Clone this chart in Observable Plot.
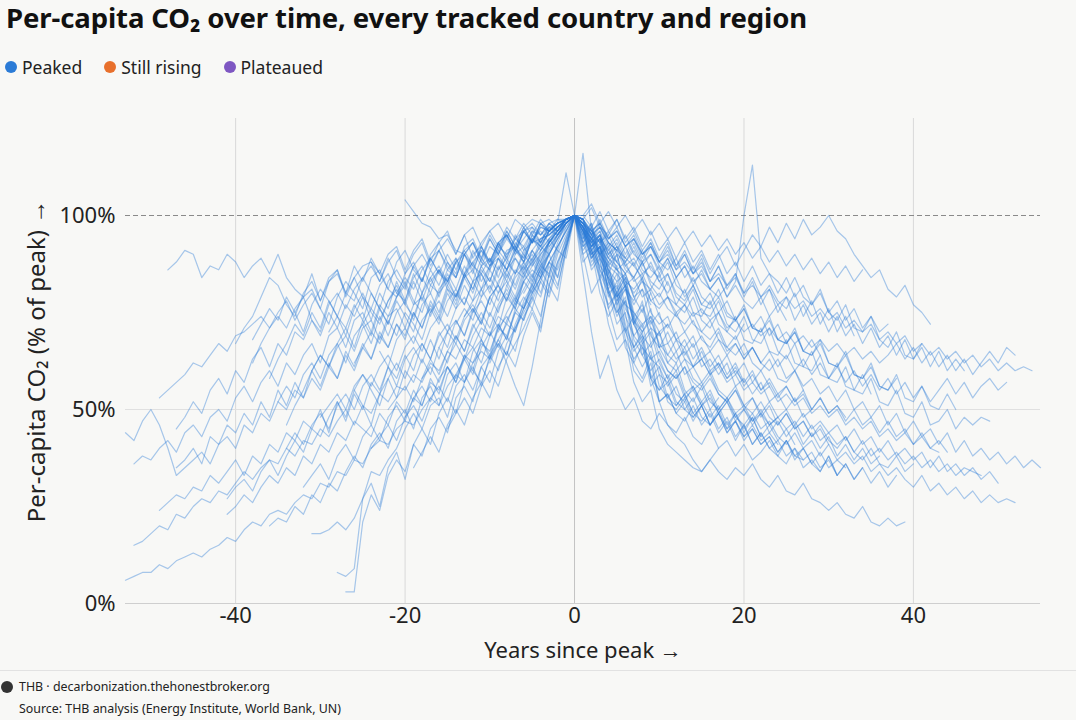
<!DOCTYPE html>
<html><head><meta charset="utf-8">
<script src="https://cdn.jsdelivr.net/npm/d3@7"></script>
<script src="https://cdn.jsdelivr.net/npm/@observablehq/plot@0.6"></script>
<style>
html,body{margin:0;padding:0;background:#f8f8f6;width:1076px;height:720px;overflow:hidden;font-family:"Segoe UI","Noto Sans","Open Sans",sans-serif;color:#111;}
#title{position:absolute;left:6px;top:0px;font-size:27.5px;font-weight:700;letter-spacing:-0.1px;line-height:36px;}
#legend{position:absolute;left:5px;top:55px;font-size:17.5px;display:flex;gap:22px;line-height:24px;color:#222}
#legend span.i{display:inline-flex;align-items:center;gap:5px}
#legend b{display:inline-block;width:12px;height:12px;border-radius:50%}
#chart{position:absolute;left:0;top:95px}
#chart g[aria-label="y-axis label"] text{font-size:24px}
#foot{position:absolute;left:0;top:670px;width:1076px;border-top:1px solid #e2e2e2;font-size:12.4px;color:#222}
#foot .l1{position:absolute;left:1px;top:7px;display:flex;align-items:center;gap:6px;white-space:nowrap}
#foot .l1 i{display:inline-block;width:12px;height:12px;border-radius:50%;background:#333}
#foot .l2{position:absolute;left:19px;top:29px;white-space:nowrap}
</style></head>
<body>
<div id="title">Per-capita CO₂ over time, every tracked country and region</div>
<div id="legend"></div>
<div id="chart"></div>
<div id="foot"><div class="l1"><i></i>THB · decarbonization.thehonestbroker.org</div><div class="l2">Source: THB analysis (Energy Institute, World Bank, UN)</div></div>
<script>
const legendLabels = ["Peaked", "Still rising", "Plateaued"];
const legendColors = ["#2b7bd6", "#e8702c", "#7e57c2"];
const xTicks = [-40, -20, 0, 20, 40];
const yTicks = [0, 50, 100];
const peakValue = 100;

// values before the peak year (last entry = year -1), % of peak
const rise = [
 [6,7,8,8,10,9,11,12,13,12,14,15,17,16,19,21,20,23,24,23,26,28,27,31,30,34,33,37,36,40,42,41,45,47,46,50,53,51,56,59,57,62,65,63,68,72,70,76,80,84,88,86,92],
 [44,42,47,50,46,40,33,35,37,39,36,41,43,40,46,44,49,47,52,50,55,53,58,55,61,58,64,60,66,63,69,66,72,69,75,71,78,74,81,77,84,80,86,83,89,86,91,88,94,92,96,95,98],
 [86,88,91,90,84,87,86,90,88,84,87,89,85,90,84,81,79,85,78,83,86,79,84,87,88,83,88,91,85,90,93,87,91,94,90,95,89,93,96,92,97,94,98,95,99,96,99,98],
 [15,16,18,20,19,23,22,25,27,26,29,28,31,34,32,35,37,36,40,38,42,41,45,43,47,50,46,51,49,54,52,56,55,59,57,62,60,65,63,68,66,71,69,74,72,78,76,82,86,90,84,93],
 [36,38,37,40,42,39,44,46,43,48,50,47,53,56,52,57,60,56,62,59,64,67,62,69,71,66,73,75,70,77,74,79,82,77,84,80,86,83,89,85,91,87,92,90,94,91,96,93,97,96,98,99],
 [53,55,57,59,62,61,64,67,65,69,70,72,74,71,75,78,73,77,80,76,72,79,83,80,76,84,86,81,79,85,88,83,89,91,86,84,90,93,88,86,92,95,91,94,97,93,98,96,99],
 [24,26,28,27,30,29,33,31,34,37,33,38,36,41,39,44,42,47,45,50,44,52,48,55,51,46,54,58,53,60,57,63,59,66,62,69,65,72,68,75,71,79,76,83,80,87,85,92,96],
 [45,48,52,49,55,58,54,60,57,63,66,61,67,64,70,68,73,69,75,71,77,74,79,73,80,76,83,78,85,80,86,82,88,84,90,86,91,88,93,89,95,91,96,93,97,95,99],
 [35,37,40,36,43,41,46,44,49,46,52,48,55,51,57,53,60,56,62,58,65,61,67,63,70,66,72,68,75,71,77,73,80,76,82,78,85,81,87,83,89,86,91,88,94,91,97],
 [27,30,32,29,34,37,33,38,42,39,45,43,48,52,47,54,50,57,54,61,58,64,60,67,63,70,66,73,69,76,72,79,75,82,78,85,82,88,84,91,89],
 [23,25,28,26,30,33,31,35,33,38,36,41,39,44,42,47,45,43,49,46,52,49,55,51,58,54,61,57,64,60,68,64,72,68,76,73,80,84,88,92,96],
 [67,71,74,79,84,82,77,74,80,83,78,84,86,80,87,83,89,85,81,88,91,86,83,90,93,88,85,92,94,89,95,91,96,92,97,93,98,95,97,99],
 [20,22,21,25,23,28,26,31,29,34,38,35,41,44,40,47,50,45,53,56,51,59,62,57,65,68,63,71,74,70,78,82,79,87,82,91],
 [18,18,19,21,19,22,27,34,33,37,40,45,49,45,51,53,48,56,59,55,61,64,60,67,71,75,79,84,80,88,92],
 [8,7,9,27,31,25,35,39,32,41,45,41,49,53,49,57,61,56,64,68,64,72,77,81,86,82,90,95],
 [3,3,21,28,24,33,37,34,41,38,45,48,44,53,56,52,61,57,65,69,65,74,78,83,79,87,94],
 [62,67,71,74,71,76,79,73,70,77,80,76,81,84,80,76,83,86,82,87,83,89,85,90,86,91,93,88,94,90,95,91,96,98,95,98,96,99],
 [52,56,53,59,62,58,64,67,62,69,72,67,74,69,75,78,73,80,75,81,84,79,85,81,87,89,84,90,92,88,94,96,93,97,99],
 [40,44,41,46,49,45,51,54,50,56,59,55,61,56,63,66,62,68,63,70,73,69,75,78,74,80,83,79,86,89,85,92,95,98],
 [75,79,81,76,83,85,80,78,84,87,83,89,84,81,87,90,86,91,87,84,90,93,89,94,90,96,92,97,93,98,96,97,99],
 [30,33,36,32,38,41,37,43,46,42,48,51,47,53,56,52,58,61,57,63,66,62,69,72,68,75,79,76,83,88,92,96],
 [60,64,61,66,69,65,71,73,68,74,76,71,77,79,74,80,83,79,84,86,81,87,89,84,90,92,88,94,95,97,98],
 [48,51,54,50,56,59,55,51,58,62,58,64,67,63,69,72,68,74,77,73,79,82,78,84,87,83,90,93,95,98],
 [104,101,98,97,94,95,91,90,87,85,89,86,91,92,89,95,92,96,98,99],
 [55,59,56,61,64,60,66,69,65,71,74,70,76,79,75,81,84,80,86,89,85,91,94,95,97,99],
 [72,76,73,78,81,77,83,78,84,87,83,88,84,90,92,87,93,89,94,96,93,97,96,98,99],
 [40,43,46,42,48,51,47,53,56,52,59,63,59,66,70,66,73,77,81,85,80,88,84,93],
 [65,61,68,71,67,73,76,72,78,81,77,83,85,80,86,89,85,91,93,94,96,98,99],
 [50,53,56,52,58,61,57,63,67,63,69,73,69,76,80,76,83,87,90,93,96,99],
 [80,84,81,86,89,85,83,88,91,87,92,88,93,95,91,96,97,95,98,99,99],
 [35,39,43,39,46,50,46,53,57,53,61,65,61,69,75,70,82,78,91],
 [58,63,59,65,69,65,71,75,71,77,81,77,84,88,84,91,95,98],
 [88,85,90,92,86,91,94,88,93,96,90,95,97,92,96,98,94,99,97,99,98,99,97,99],
 [92,95,98],
 [88,93,96,99],
 [85,88,91,94,97,99],
 [80,84,89,93,96,98],
 [78,83,86,84,90,94,98],
 [70,75,79,76,83,87,90,94,97],
 [62,67,64,71,76,81,85,90,94,98],
 [60,57,63,67,62,56,51,61,73,85,93,98],
 [74,78,81,77,83,86,82,88,91,87,93,96,99],
 [45,49,53,49,56,60,56,63,67,71,76,71,82,88,94],
 [66,70,67,73,76,72,79,82,78,85,88,84,91,94,96,99],
 [83,86,82,88,90,85,92,88,93,95,90,96,93,98,96,98,111],
 [68,72,76,73,79,75,70,77,81,78,74,80,84,79,76,82,85,80,78,84,87,82,80,86,89,84,88,91,87,92,90,94,92,96,95,97,98,99],
 [58,63,67,72,69,75,71,78,74,69,76,80,75,72,78,82,77,74,80,84,79,85,81,87,83,89,86,91,88,93,90,95,93,97,96,99],
 [46,51,55,60,64,61,67,71,66,73,69,76,72,78,74,70,77,80,75,82,78,85,81,87,83,89,86,92,88,94,91,96,98,99],
 [70,74,71,77,73,80,76,72,79,83,78,75,82,86,81,79,85,88,83,87,90,86,91,89,94,92,96,98,99],
 [62,66,70,67,73,69,75,72,68,75,78,74,80,77,83,79,86,82,88,85,90,87,93,95,97,99],
 [72,76,73,79,82,78,85,81,87,90,86,93,96,98],
 [82,86,84,89,92,90,95,98],
 [48,53,51,57,55,61,58,64,62,67,65,71,69,75,73,79,74,85,81,92]
];

// values after the peak year (first entry = year +1), % of peak
const fall = [
 [98,95,97,93,91],
 [96,92,94,89,87],
 [97,94,98,93,91,95,90,88,92,87],
 [96,93,95,90,88,85],
 [99,95,97,93,91,89],
 [95,90,92,86,83,85,79,81,77],
 [97,92,94,89,86,88,83,85,80],
 [96,89,92,83,79,82,74,77,71,69,72],
 [98,96,93,95,90,88,91,86,84,87,82],
 [97,90,92,84,78,81,72,67,70,62,58,62,55,52,56,50,53],
 [92,94,85,80,82,71,66,69,58,52,46,43,41,37,34,37,40],
 [98,96,93,96,92,89,93,88,90,86,89,84,87,83,85,81,79,82],
 [95,86,89,76,68,71,60,57,62,52,54,49,52,47,51,46,50,45,49,44,48,43],
 [98,91,84,88,76,70,74,64,60,63,58,52,50,53,48,46,49,44,47,42,45,41,43,39,42,38,37],
 [93,96,86,82,87,76,72,78,67,70,62,60,63,58,56,59,54,52,55,50,53,48,51,46,49,45,47,43,45,41],
 [90,92,83,77,80,70,65,68,58,61,53,51,54,49,47,50,45,48,43,46,41,44,40,42,38,40,37,39,35,37,33],
 [99,95,93,89,92,87,84,88,82,79,83,77,75,79,73,71,75,70,68,72],
 [99,93,96,87,90,81,78,84,75,72,74,68,66,69,63,65,61,64,59,62,57,60,56],
 [97,89,92,81,74,78,66,61,65,56,53,56,50,48,51,46,49,45,47,43,46,42,44,41],
 [99,96,98,94,96,92,94,90,92,88,86,89,84,87,83,81,84,79,82,78,76,79,74,77,73],
 [94,97,88,79,83,72,66,70,59,55,57,51,54,49,52,48,51,46,49,45,48,43,46,42,45,41],
 [97,94,90,92,86,84,80,83,78,76,79,74,72,75,70,68,71,66,64,67,62,60,63,58,57,60,55],
 [93,97,89,85,90,82,77,81,72,75,67,70,64,67,61,63,59,62,56,58,54,57,52,54,50,53,48,50],
 [97,93,95,90,92,87,89,85,87,83,85,80,78,82,77,76,79,74,73,76,71,70,73,68,67,70,65,64,67,62,61,64,59,58,61,56,55,58],
 [88,91,80,74,78,66,62,67,56,59,52,50,53,48,51,46,49,44,47,43,45,41,43,39,42,38,40,36,39,35,37,35],
 [98,95,99,94,97,92,95,90,93,88,91,86,90,85,88,83,87,82,85,80,84,79,82,78,76,80,74,78,72,76,70,74,69],
 [96,89,92,80,72,75,62,58,64,52,54,49,47,51,46,49,44,47,42,46,41,44,40,38,42,37,40,36,34,38,33,36,32,35],
 [99,95,90,93,88,85,88,83,81,85,79,77,81,75,74,78,72,70,74,68,67,71,65,64,68,62,61,65,59,58,62,56,55,59,54],
 [92,95,86,81,85,74,69,72,63,61,56,59,53,55,51,54,49,52,47,50,46,49,44,47,43,46,41,44,40,43,38,41,37,40,36,38],
 [100,97,101,96,99,94,97,92,96,91,94,89,93,88,91,86,90,85,88,83,87,82,85,80,84,79,82,77,80,75,78,73,76,71,74,70,72],
 [90,80,84,72,65,68,57,52,55,45,41,39,37,35,34,37,34,32,35,33,36,32,30,33,29,28,31,27,26,24,26,23,22,25,21,20,22,20,21],
 [99,92,95,85,80,84,75,71,76,66,62,65,59,61,57,60,55,53,56,51,49,52,48,46,49,45,47,43,46,42,40,43,39,37,40,36,35,38,34,36],
 [100,103,98,101,97,100,96,99,95,98,94,97,93,96,92,95,91,94,90,93,89,92,88,91,87,90,86,89,85,88,84,87,83,86],
 [97,94,91,88,86,83,81,84,78,80,76,74,77,72,70,73,68,66,69,64,66,62,60,63,58,60,56,58,54,56,52,55,50,52,48,51,46,49,44,47,43,45,41,44,39,42,38,40,37,39,36,38,35,37,35],
 [99,96,98,94,96,92,94,90,92,88,90,86,88,85,87,83,85,82,84,80,82,79,81,77,79,76,78,74,76,73,75,71,73,70,72,68,70,67,69,65,67,64,66,63,65,62,64,61,63,60,62,60,61,60],
 [97,90,93,83,78,82,72,68,71,64,60,58,61,55,57,52,50,53,48,46,49,45,47,43,41,44,40,42,38,41,37,39,36,38,34,36,33,35,32,30,33,29,31,28,30,27,29,26,28,26,27,26],
 [97,93,90,87,85,82,84,79,81,77,79,75,77,74,76,73,75,71,73,70,72,69,71,68,70,67,69,66,68,65,67,64,66,63,65,62,64,67,63,66,62,65,61,64,60,63,59,62,65,62,66,64],
 [96,91,87,84,80,77,75,72,74,70,72,68,70,66,69,65,68,64,67,63,66,62,65,61,64,60,63,59,62,58,61,57,60,56,59,55,58,54,57,53,56,52,55,58,54,57,53,56,58,55,57],
 [98,94,92,88,91,86,84,88,83,81,85,79,77,81,75,74,78,72,70,74,68,67,71,65,63,67,61,60,64,58,57,61,55,54,58,52,51,55,49,48,52,46,47,50,45,48,46,48,47],
 [96,88,91,80,75,79,68,64,67,59,57,60,54,56,52,55,50,53,49,51,47,50,46,48,45,47,43,46,42,44,41,43,39,42,38,40,37,39,36,38,35,37,34,36,33,35,34,33],
 [99,102,97,95,99,93,96,91,94,89,93,87,90,85,89,83,87,81,85,79,83,77,81,75,79,73,77,72,75,70,74,69,72,67,71,66,69,64,68,63,66,61,65,60,63,60],
 [116,96,94,91,94,89,87,91,86,84,88,82,80,84,79,77,81,75,73,77,71,70,74,68,67,71,65,64,68,62,61,65,59,58,62,56,55,59,53,52,56,51,50,54,50],
 [98,91,94,85,79,83,73,70,74,66,67,63,65,61,63,59,61,57,59,55,57,54,56,52,54,51,53,49,51,48,50,46,48,45,47,43,45,42,44,41,43,40,39],
 [98,94,97,92,95,90,94,89,93,88,92,87,91,86,90,85,89,92,87,91,95,92,97,93,98,94,99,95,97,100,96,94,90,87,84,86,81,79,82,77,75,72],
 [96,92,95,90,93,88,92,87,90,85,89,84,87,82,86,81,84,79,83,100,113,89,85,83,80,84,79,77,81,75,73,77,71,70,74,68,66,70,64,63,67],
 [97,91,94,83,77,81,73,69,66,70,64,62,66,61,63,59,62,58,60,57],
 [94,98,90,86,81,85,79,75,80,74,71,75,70,73,68,66,70,65,67,63,66,62],
 [91,94,84,76,80,68,63,66,58,55,59,54,52,56,51,53,49,52,48,50,47,49,46,48],
 [98,94,96,91,88,92,87,84,88,83,80,84,79,82,77,80,75,78,73,76,71,74,69,72,67,70,65,68,64],
 [99,92,95,86,80,84,74,70,73,67,64,68,63,61,65,60,62,58,61,56,59,55,57,53,56,52,54,50,53,49,51,48],
 [95,98,89,84,79,82,72,76,69,66,70,65,68,63,66,61,64,59,62,57,60,55,58,54,56,52,55,50,53,49,51,47,50,46,48,44,47,43,45,41,44,40,42,39],
 [93,87,90,81,75,78,69,66,63,65,60,58,61,57,55,58,54,52,55,51,53,49,52,48,50,46,49,45,47,44,46,42,45,41,43,39,42,38,40,37,39,35,38,34,36,33,35,32,34,31],
 [85,70,58,64,55,50,53,47,45,49,46,44,48,43,41,45,40,42,38,41,37,39,42,38,36,40,35,37,34,38,33,36,32,35,31,34,30,33]
];

const rows = [];
rise.forEach((pre, i) => {
  const n = pre.length;
  pre.forEach((v, k) => rows.push({id: i, t: k - n, v}));
  rows.push({id: i, t: 0, v: peakValue});
  fall[i].forEach((v, k) => rows.push({id: i, t: k + 1, v}));
});

const lg = document.getElementById("legend");
legendLabels.forEach((l, i) => {
  const s = document.createElement("span"); s.className = "i";
  s.innerHTML = `<b style="background:${legendColors[i]}"></b>${l}`;
  lg.appendChild(s);
});

const chart = Plot.plot({
  width: 1076, height: 572,
  marginTop: 23, marginBottom: 64, marginLeft: 125, marginRight: 36,
  style: {background: "transparent", fontFamily: '"Segoe UI","Noto Sans","Open Sans",sans-serif', fontSize: "22px", color: "#222"},
  x: {domain: [-53, 55], ticks: xTicks, tickSize: 0, tickPadding: 4, tickFormat: d => String(d), label: "Years since peak →", labelArrow: false, labelAnchor: "center", labelOffset: 54},
  y: {domain: [0, 125], ticks: yTicks, tickSize: 0, tickPadding: 10, tickFormat: d => d + "%", label: "Per-capita CO₂ (% of peak) →", labelArrow: false, labelAnchor: "center", labelOffset: 98},
  marks: [
    Plot.gridX(xTicks.filter(d => d !== 0), {stroke: "#d9d9d9", strokeOpacity: 1}),
    Plot.ruleX([0], {stroke: "#c4c4c4"}),
    Plot.ruleY([50], {stroke: "#e0e0e0"}),
    Plot.ruleY([0], {stroke: "#cfcfcf"}),
    Plot.ruleY([peakValue], {stroke: "#8a8a8a", strokeDasharray: "5,3"}),
    Plot.line(rows, {x: "t", y: "v", z: "id", stroke: legendColors[0], strokeOpacity: 0.4, strokeWidth: 1.2, curve: "linear"})
  ]
});
document.getElementById("chart").appendChild(chart);
</script>
</body></html>
